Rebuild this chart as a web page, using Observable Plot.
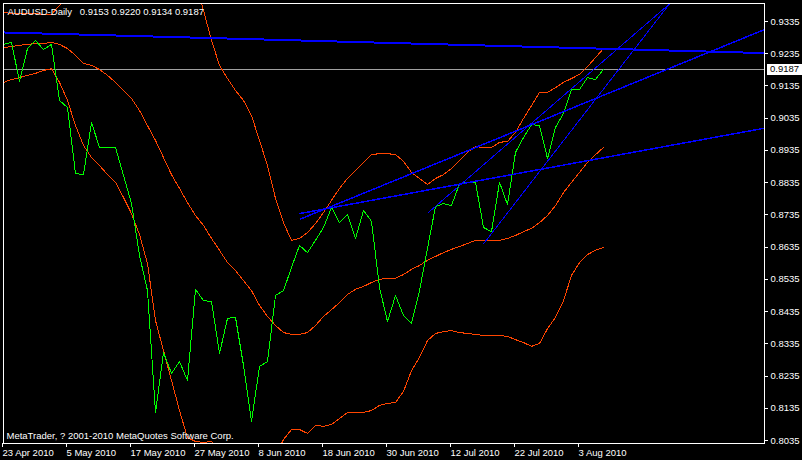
<!DOCTYPE html>
<html>
<head>
<meta charset="utf-8">
<script src="https://cdn.jsdelivr.net/npm/d3@7"></script>
<script src="https://cdn.jsdelivr.net/npm/@observablehq/plot@0.6"></script>
<style>
html, body { margin: 0; padding: 0; background: #000; }
#chart svg { display: block; }
#chart svg path, #chart svg line, #chart svg rect { shape-rendering: crispEdges; }
</style>
</head>
<body>
<div id="chart"></div>
<script>
// ---------- data ----------
const symbol = "AUDUSD-Daily";
const ohlc = [0.9153, 0.9220, 0.9134, 0.9187]; // open, high, low, close of last bar
const copyright = "MetaTrader, ? 2001-2010 MetaQuotes Software Corp.";

// date tick labels (every 8th daily bar, bar 0 = 23 Apr 2010)
const labelBars = [0, 8, 16, 24, 32, 40, 48, 56, 64, 72];
const dateLabels = ["23 Apr 2010", "5 May 2010", "17 May 2010", "27 May 2010", "8 Jun 2010",
  "18 Jun 2010", "30 Jun 2010", "12 Jul 2010", "22 Jul 2010", "3 Aug 2010"];

// price axis ticks
const priceTicks = [0.8035, 0.8135, 0.8235, 0.8335, 0.8435, 0.8535, 0.8635, 0.8735,
  0.8835, 0.8935, 0.9035, 0.9135, 0.9235, 0.9335];

// daily close (line chart)
const close = [
  0.9264, 0.9270, 0.9149, 0.9251, 0.9276, 0.9248, 0.9264, 0.9090, 0.9068, 0.8863,
  0.8860, 0.9022, 0.8944, 0.8944, 0.8944, 0.8857, 0.8770, 0.8609, 0.8500, 0.8122,
  0.8308, 0.8243, 0.8280, 0.8221, 0.8504, 0.8469, 0.8466, 0.8305, 0.8414, 0.8417,
  0.8268, 0.8094, 0.8265, 0.8280, 0.8485, 0.8500, 0.8572, 0.8640, 0.8618, 0.8656,
  0.8696, 0.8758, 0.8711, 0.8736, 0.8662, 0.8749, 0.8715, 0.8510, 0.8404, 0.8485,
  0.8423, 0.8398, 0.8500, 0.8631, 0.8761, 0.8770, 0.8764, 0.8832, 0.8836, 0.8836,
  0.8696, 0.8683, 0.8836, 0.8767, 0.8929, 0.8975, 0.9015, 0.9012, 0.8910, 0.9006,
  0.9050, 0.9124, 0.9124, 0.9161, 0.9155, 0.9187
];

// Bollinger bands (null = off the chart)
const bbMiddle = [
  0.9254, 0.9257, 0.9261, 0.9264, 0.9267, 0.9267, 0.9270, 0.9264, 0.9251, 0.9230,
  0.9205, 0.9199, 0.9186, 0.9168, 0.9146, 0.9121, 0.9096, 0.9059, 0.9012, 0.8966,
  0.8913, 0.8860, 0.8817, 0.8773, 0.8733, 0.8702, 0.8662, 0.8625, 0.8587, 0.8562,
  0.8531, 0.8500, 0.8454, 0.8420, 0.8392, 0.8370, 0.8364, 0.8364, 0.8370, 0.8392,
  0.8420, 0.8441, 0.8463, 0.8488, 0.8504, 0.8513, 0.8525, 0.8535, 0.8538, 0.8538,
  0.8550, 0.8566, 0.8578, 0.8594, 0.8606, 0.8618, 0.8628, 0.8637, 0.8646, 0.8656,
  0.8656, 0.8656, 0.8656, 0.8662, 0.8671, 0.8683, 0.8693, 0.8711, 0.8733, 0.8764,
  0.8804, 0.8836, 0.8867, 0.8898, 0.8922, 0.8944
];
const bbUpper = [
  0.9363, 0.9360, 0.9360, 0.9360, 0.9360, 0.9357, 0.9357, 0.9385, 0.9419, null,
  null, null, null, null, null, null, null, null, null, null,
  null, null, null, 0.9549, 0.9456, 0.9369, 0.9276, 0.9199, 0.9158, 0.9121,
  0.9090, 0.9043, 0.8966, 0.8888, 0.8786, 0.8711, 0.8656, 0.8662, 0.8680, 0.8708,
  0.8742, 0.8780, 0.8817, 0.8848, 0.8873, 0.8898, 0.8922, 0.8925, 0.8925, 0.8922,
  0.8901, 0.8867, 0.8848, 0.8829, 0.8848, 0.8860, 0.8879, 0.8904, 0.8929, 0.8947,
  0.8944, 0.8944, 0.8960, 0.8963, 0.8991, 0.9034, 0.9074, 0.9115, 0.9115, 0.9130,
  0.9146, 0.9158, 0.9171, 0.9195, 0.9223, 0.9251
];
const bbLower = [
  0.9146, 0.9155, 0.9161, 0.9168, 0.9174, 0.9183, 0.9189, 0.9146, 0.9090, 0.9012,
  0.8950, 0.8913, 0.8888, 0.8860, 0.8836, 0.8789, 0.8739, 0.8674, 0.8584, 0.8407,
  0.8314, 0.8221, 0.8128, 0.8044, 0.8032, 0.8029, 0.8032, 0.7988, null, null,
  null, null, null, null, 0.7988, 0.8038, 0.8069, 0.8069, 0.8057, 0.8082,
  0.8079, 0.8085, 0.8103, 0.8122, 0.8122, 0.8122, 0.8128, 0.8144, 0.8150, 0.8153,
  0.8187, 0.8252, 0.8293, 0.8345, 0.8367, 0.8373, 0.8376, 0.8370, 0.8367, 0.8364,
  0.8361, 0.8361, 0.8361, 0.8358, 0.8348, 0.8339, 0.8327, 0.8336, 0.8382, 0.8417,
  0.8469, 0.8547, 0.8587, 0.8612, 0.8625, 0.8634
];

// trend lines: start/end in (bar index, price)
const trendStartBar   = [0,      37,     37,     53,     60];
const trendStartPrice = [0.9301, 0.8739, 0.8721, 0.8740, 0.8645];
const trendEndBar     = [95.125, 95.125, 95.125, 95,     95];
const trendEndPrice   = [0.9237, 0.9004, 0.9310, 0.9642, 0.9766];

// ---------- chart ----------
const RED = "#ff4500", GREEN = "#00ff00", BLUE = "#0000ff";
const trendWidth = [2, 1.5, 1.5, 1, 1];
const trendIdx = d3.range(trendStartBar.length);
const idx = (d, i) => i;

function priceBox(index, scales, values, dimensions) {
  const y = scales.y(ohlc[3]);
  const x0 = dimensions.width - dimensions.marginRight + 3;
  const g = d3.create("svg:g");
  g.append("rect")
    .attr("x", x0).attr("y", Math.round(y) - 5)
    .attr("width", dimensions.width - x0).attr("height", 11)
    .attr("fill", "#fff");
  g.append("text")
    .attr("x", x0 + 3).attr("y", y).attr("dy", "0.34em")
    .attr("text-anchor", "start")
    .attr("fill", "#000")
    .text(ohlc[3].toFixed(4));
  return g.node();
}

const chart = Plot.plot({
  width: 802,
  height: 460,
  marginLeft: 3,
  marginRight: 38,
  marginTop: 3,
  marginBottom: 17,
  style: {
    background: "#000",
    color: "#fff",
    fontFamily: "'Liberation Sans', Arial, sans-serif",
    fontSize: "9.5px"
  },
  x: {type: "linear", domain: [0, 95.125], label: null},
  y: {type: "linear", domain: [0.802569, 0.939085], label: null},
  marks: [
    Plot.ruleY([ohlc[3]], {stroke: "#a0a0a0", strokeWidth: 1}),
    Plot.lineY(bbUpper, {x: idx, stroke: RED, strokeWidth: 1, clip: true}),
    Plot.lineY(bbMiddle, {x: idx, stroke: RED, strokeWidth: 1, clip: true}),
    Plot.lineY(bbLower, {x: idx, stroke: RED, strokeWidth: 1, clip: true}),
    Plot.lineY(close, {x: idx, stroke: GREEN, strokeWidth: 1, clip: true}),
    Plot.link(trendIdx, {
      x1: i => trendStartBar[i], y1: i => trendStartPrice[i],
      x2: i => trendEndBar[i], y2: i => trendEndPrice[i],
      stroke: BLUE, strokeWidth: i => trendWidth[i], clip: true
    }),
    Plot.frame({stroke: "#fff"}),
    Plot.axisY(priceTicks, {
      anchor: "right", tickSize: 3, tickPadding: 3, label: null,
      tickFormat: d => d.toFixed(4)
    }),
    Plot.axisX(labelBars, {
      anchor: "bottom", tickSize: 4, tickPadding: 2, label: null,
      textAnchor: "start", dx: -1,
      tickFormat: d => dateLabels[labelBars.indexOf(d)]
    }),
    Plot.text([`${symbol}\u00a0\u00a0 ${ohlc.map(v => v.toFixed(4)).join(" ")}`], {
      frameAnchor: "top-left", dx: 4, dy: 4.3, lineAnchor: "top", textAnchor: "start", fill: "#fff"
    }),
    Plot.text([copyright], {
      frameAnchor: "bottom-left", dx: 3, dy: -4.5, lineAnchor: "bottom", textAnchor: "start", fill: "#fff"
    }),
    priceBox
  ]
});

document.getElementById("chart").appendChild(chart);
</script>
</body>
</html>
